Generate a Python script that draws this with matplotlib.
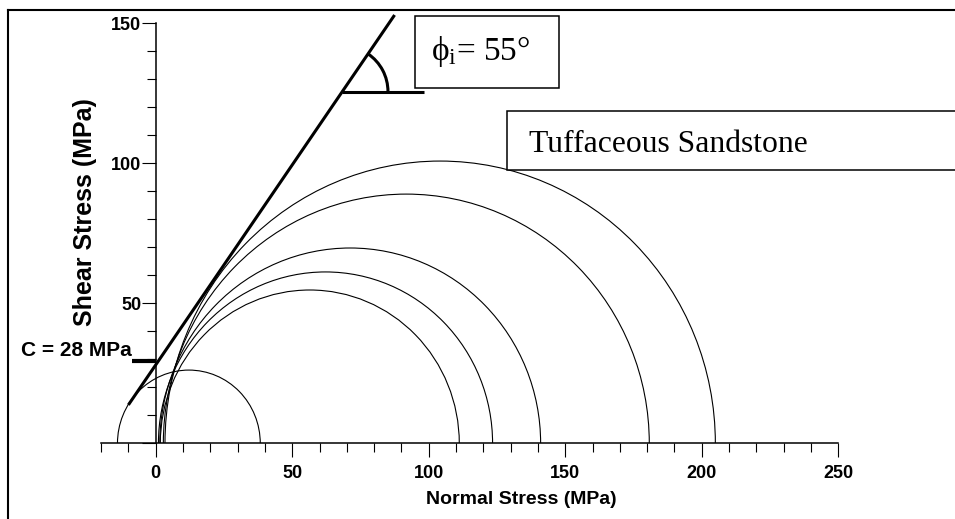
import numpy as np
import matplotlib
matplotlib.use("Agg")
import matplotlib.pyplot as plt
from matplotlib.patches import Arc, Rectangle
from matplotlib.lines import Line2D
from matplotlib.ticker import FixedLocator, MultipleLocator

plt.rcParams['font.family'] = ['Liberation Sans', 'DejaVu Sans']
plt.rcParams['mathtext.fontset'] = 'custom'
plt.rcParams['mathtext.rm'] = 'Liberation Serif'
plt.rcParams['mathtext.it'] = 'Liberation Serif:italic'

# ---- data ----
sigma3 = [-14.0, 1.7, 1.0, 1.5, 2.8, 3.4]            # minor principal stress (MPa)
sigma1 = [38.3, 111.2, 123.4, 141.0, 180.8, 205.0]   # major principal stress (MPa)
cohesion = 28.0
friction_angle = 55.0
envelope_sigma = [-10.0, 87.5]
cohesion_mark_tau = 29.5
angle_marker_tau = 125.6
angle_marker_end = 98.3
x_major = [0, 50, 100, 150, 200, 250]
y_major = [50, 100, 150]
x_range = [-20, 250]
y_range = [0, 150]

W, H = 955, 519
fig = plt.figure(figsize=(W / 100, H / 100), dpi=100)

def fx(px):
    return px / W

def fy(py):
    return 1 - py / H

# axes placed so that data maps to the reference pixels
ax_left, ax_right = 101.1, 838.2
ax_top, ax_bottom = 23.3, 443.3
ax = fig.add_axes([fx(ax_left), fy(ax_bottom), (ax_right - ax_left) / W, (ax_bottom - ax_top) / H])
ax.set_xlim(*x_range)
ax.set_ylim(*y_range)
ax.patch.set_alpha(0)

for s in ['top', 'right']:
    ax.spines[s].set_visible(False)
ax.spines['left'].set_position(('data', 0))
ax.spines['left'].set_bounds(*y_range)
ax.spines['bottom'].set_bounds(*x_range)
for s in ['left', 'bottom']:
    ax.spines[s].set_linewidth(1.1)

ax.xaxis.set_major_locator(FixedLocator(x_major))
ax.xaxis.set_minor_locator(MultipleLocator(10))
ax.yaxis.set_major_locator(FixedLocator(y_major + [0]))
ax.yaxis.set_minor_locator(MultipleLocator(10))
ax.set_xticklabels([str(v) for v in x_major])
ax.set_yticklabels([str(v) for v in y_major] + [''])
ax.tick_params(which='major', direction='out', length=10, width=0.8)
ax.tick_params(which='minor', direction='out', length=6.7, width=0.8)
ax.tick_params(axis='x', which='major', pad=5.5, labelsize=13)
ax.tick_params(axis='y', which='major', pad=0.5, labelsize=13)
for lab in ax.get_xticklabels() + ax.get_yticklabels():
    lab.set_fontweight('bold')

# Mohr circles
for s3, s1 in zip(sigma3, sigma1):
    c = (s1 + s3) / 2
    r = (s1 - s3) / 2
    ax.add_patch(Arc((c, 0), 2 * r, 2 * r, theta1=0, theta2=180, lw=0.8, color='black', zorder=3))

# failure envelope
tanphi = np.tan(np.radians(friction_angle))
es = np.array(envelope_sigma)
ax.plot(es, cohesion + tanphi * es, color='black', lw=2.2, clip_on=False, zorder=4, solid_capstyle='butt')

# cohesion dash
ax.plot([-8.5, 0], [cohesion_mark_tau, cohesion_mark_tau], color='black', lw=3, clip_on=False,
        solid_capstyle='butt', zorder=4)
ax.text(-8.8, cohesion_mark_tau + 1.5, 'C = 28 MPa', ha='right', va='baseline', fontsize=15,
        fontweight='bold')

# friction angle marker
s_int = (angle_marker_tau - cohesion) / tanphi
ax.plot([s_int, angle_marker_end], [angle_marker_tau, angle_marker_tau], color='black', lw=2.2,
        clip_on=False, zorder=4, solid_capstyle='butt')
fig.canvas.draw()
p0 = ax.transData.transform((0, 0))
sx = ax.transData.transform((1, 0))[0] - p0[0]
sy = ax.transData.transform((0, 1))[1] - p0[1]
R = 45.7
ax.add_patch(Arc((s_int, angle_marker_tau), 2 * R / sx, 2 * R / sy, theta1=0, theta2=friction_angle,
                 lw=2.2, color='black', clip_on=False, zorder=4))

# boxes
fig.patches.append(Rectangle((fx(415), fy(88)), (559 - 415) / W, (88 - 16) / H, transform=fig.transFigure,
                             facecolor='white', edgecolor='black', lw=1.1, zorder=5))
fig.text(fx(431), fy(60), 'ϕ$_{\\mathrm{i}}$= 55°', fontsize=24, family='Liberation Serif',
         va='baseline', ha='left', zorder=6)
fig.patches.append(Rectangle((fx(507), fy(170)), (970 - 507) / W, (170 - 111) / H, transform=fig.transFigure,
                             facecolor='white', edgecolor='black', lw=1.1, zorder=5))
fig.text(fx(529), fy(152), 'Tuffaceous Sandstone', fontsize=22.8, family='Liberation Serif',
         va='baseline', ha='left', zorder=6)

# axis labels
fig.text(fx(521), fy(500), 'Normal Stress (MPa)', fontsize=14, fontweight='bold', ha='center', va='center')
fig.text(fx(85), fy(212), 'Shear Stress (MPa)', fontsize=18, fontweight='bold', ha='center', va='center',
         rotation=90)

# outer frame (top and left visible)
fig.lines.append(Line2D([fx(8), fx(8)], [0, fy(10)], transform=fig.transFigure, color='black', lw=1.5))
fig.lines.append(Line2D([fx(8), 1], [fy(10), fy(10)], transform=fig.transFigure, color='black', lw=1.5))

fig.savefig('out.png', dpi=100)
